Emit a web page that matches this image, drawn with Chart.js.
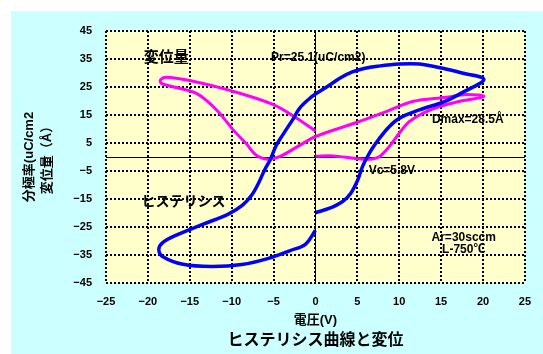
<!DOCTYPE html>
<html>
<head>
<meta charset="utf-8">
<script src="https://cdn.jsdelivr.net/npm/chart.js@4/dist/chart.umd.min.js"></script>
<style>
  html, body { margin: 0; padding: 0; background: #fff; overflow: hidden; }
  canvas { display: block; }
</style>
</head>
<body>
<canvas id="chart" width="543" height="354"></canvas>
<script>
// Tick values of both axes
const voltageTicks = [-25, -20, -15, -10, -5, 0, 5, 10, 15, 20, 25];
const valueTicks = [-45, -35, -25, -15, -5, 5, 15, 25, 35, 45];

// Polarization hysteresis loop (V, uC/cm2)
const polVoltage = [0, 1.7, 3.2, 4.2, 5.05, 5.6, 6.2, 6.8, 7.6, 8.8, 10.0, 12.4, 15.4, 17.7, 20.1,
  17.5, 15.2, 12.4, 10.0, 7.4, 5.8, 4.4, 3.0, 1.7, 0, -0.7, -1.9, -2.6, -3.9, -4.7, -5.4, -6.1, -6.8, -7.6,
  -8.7, -10.4, -13.4, -16.6, -18.2, -18.7, -18.2, -15.8, -12.4, -8.8, -5.6, -3.0, -1.2, 0];
const polValue = [-19.9, -18.3, -16.0, -13.0, -8.2, -3.5, 0.1, 3.1, 6.5, 10.8, 13.8, 16.8, 19.8, 23.3, 27.7,
  30.0, 31.7, 33.2, 33.2, 32.4, 31.6, 30.4, 28.3, 25.7, 22.5, 20.9, 17.4, 13.9, 7.9, 4.0, -1.0, -4.8, -9.4, -13.6,
  -17.2, -20.4, -24.0, -27.9, -30.5, -33.0, -35.6, -38.3, -39.1, -38.4, -36.2, -33.4, -31.2, -26.2];

// Displacement loop (V, Å)
const dispVoltage = [0, 2.1, 4.8, 6.4, 7.6, 8.8, 10.0, 11.2, 12.8, 14.8, 17.1, 20.1,
  18.0, 15.6, 11.6, 8.6, 5.0, 0, -2.2, -4.3, -5.7, -7.1, -8.3, -9.8, -11.8, -14.2, -17.0, -18.4, -18.5,
  -17.8, -15.0, -10.0, -5.1, -2.5, 0];
const dispValue = [0.3, 0.4, -0.5, -0.8, 0.1, 3.7, 8.5, 12.6, 15.6, 18.0, 19.8, 21.6,
  22.3, 21.3, 19.8, 16.4, 12.4, 7.3, 3.6, 0.1, -0.8, 0.7, 4.9, 9.6, 16.8, 22.7, 25.1, 26.3, 27.5,
  28.5, 27.3, 23.6, 18.8, 14.4, 9.3];

const toPoints = (xs, ys) => xs.map((x, i) => ({ x, y: ys[i] }));

const FONT = "'Liberation Sans', 'Noto Sans CJK JP', sans-serif";
const minus = v => String(v).replace('-', '\u2212');

// Text notes placed in data coordinates
const notes = [
  { text: '変位量', x: -20.5, y: 35.4, align: 'left', size: 15 },
  { text: 'Pr=25.1(uC/cm2)', x: -5.3, y: 35.5, align: 'left', size: 12 },
  { text: 'Dmax=28.5Å', x: 13.9, y: 13.5, align: 'left', size: 12 },
  { text: 'Vc=5.8V', x: 6.35, y: -4.9, align: 'left', size: 12 },
  { text: 'ヒステリシス', x: -20.75, y: -16.0, align: 'left', size: 14 },
  { text: 'Ar=30sccm', x: 17.7, y: -28.8, align: 'center', size: 12 },
  { text: 'L-750℃', x: 17.7, y: -33.2, align: 'center', size: 12 }
];

const backdrop = {
  id: 'backdrop',
  beforeDraw(chart) {
    const { ctx, chartArea: a, width, height } = chart;
    ctx.save();
    ctx.fillStyle = '#ffffff';
    ctx.fillRect(0, 0, width, height);
    ctx.fillStyle = '#ccffff';
    ctx.fillRect(11, 11, width - 11, height - 11);
    ctx.fillStyle = '#ffffcc';
    ctx.fillRect(a.left, a.top, a.right - a.left, a.bottom - a.top);
    ctx.restore();
  },
  beforeDatasetsDraw(chart) {
    // solid zero axes through the plot area
    const { ctx, chartArea: a, scales } = chart;
    const x0 = Math.round(scales.x.getPixelForValue(0)) + 0.5;
    const y0 = Math.round(scales.y.getPixelForValue(0)) + 0.5;
    ctx.save();
    ctx.strokeStyle = '#000';
    ctx.lineWidth = 1;
    ctx.beginPath();
    ctx.moveTo(x0, a.top); ctx.lineTo(x0, a.bottom);
    ctx.moveTo(a.left, y0); ctx.lineTo(a.right, y0);
    ctx.stroke();
    ctx.restore();
  },
  afterDatasetsDraw(chart) {
    const { ctx, scales } = chart;
    ctx.save();
    ctx.fillStyle = '#000';
    ctx.textBaseline = 'middle';
    notes.forEach(n => {
      ctx.font = `bold ${n.size}px ${FONT}`;
      ctx.textAlign = n.align;
      ctx.fillText(n.text, scales.x.getPixelForValue(n.x), scales.y.getPixelForValue(n.y));
    });
    ctx.restore();
  }
};

const gridStyle = { color: '#000', lineWidth: 2, drawTicks: false };
const borderStyle = { display: false, dash: [2, 2] };

new Chart(document.getElementById('chart'), {
  type: 'scatter',
  data: {
    datasets: [
      {
        label: '分極率',
        data: toPoints(polVoltage, polValue),
        showLine: true,
        borderColor: '#0000ff',
        backgroundColor: '#0000ff',
        borderWidth: 3.5,
        pointRadius: 0,
        tension: 0.35
      },
      {
        label: '変位量',
        data: toPoints(dispVoltage, dispValue),
        showLine: true,
        borderColor: '#ff00ff',
        backgroundColor: '#ff00ff',
        borderWidth: 3,
        pointRadius: 0,
        tension: 0.35
      }
    ]
  },
  options: {
    responsive: false,
    animation: false,
    devicePixelRatio: 1,
    layout: { padding: { left: 0, right: 17, top: 31, bottom: 4 } },
    plugins: {
      legend: { display: false },
      tooltip: { enabled: false },
      title: {
        display: true,
        position: 'bottom',
        fullSize: false,
        text: 'ヒステリシス曲線と変位',
        color: '#000',
        font: { family: FONT, size: 16, weight: 'bold', lineHeight: 1.2 },
        padding: 0
      }
    },
    scales: {
      x: {
        type: 'linear',
        min: voltageTicks[0],
        max: voltageTicks[voltageTicks.length - 1],
        afterBuildTicks: s => { s.ticks = voltageTicks.map(v => ({ value: v })); },
        afterFit: s => { s.height = 47.8; },
        ticks: {
          autoSkip: false, maxRotation: 0, padding: 12, color: '#000',
          font: { family: FONT, size: 11, weight: 'bold' },
          callback: minus
        },
        grid: gridStyle,
        border: borderStyle,
        title: {
          display: true, text: '電圧(V)', color: '#000',
          font: { family: FONT, size: 13, weight: 'bold', lineHeight: 1.2 },
          padding: { top: 0, bottom: 3 }
        }
      },
      y: {
        type: 'linear',
        min: valueTicks[0],
        max: valueTicks[valueTicks.length - 1],
        afterBuildTicks: s => { s.ticks = valueTicks.map(v => ({ value: v })); },
        afterFit: s => { s.width = 106; },
        ticks: {
          padding: 14, color: '#000',
          font: { family: FONT, size: 11, weight: 'bold' },
          callback: minus
        },
        grid: gridStyle,
        border: borderStyle,
        title: {
          display: true, text: ['分極率(uC/cm2', '変位量（Å）'], color: '#000',
          font: { family: FONT, size: 13, weight: 'bold', lineHeight: 1.35 },
          padding: { top: 21, bottom: 0 }
        }
      }
    }
  },
  plugins: [backdrop]
});
</script>
</body>
</html>
